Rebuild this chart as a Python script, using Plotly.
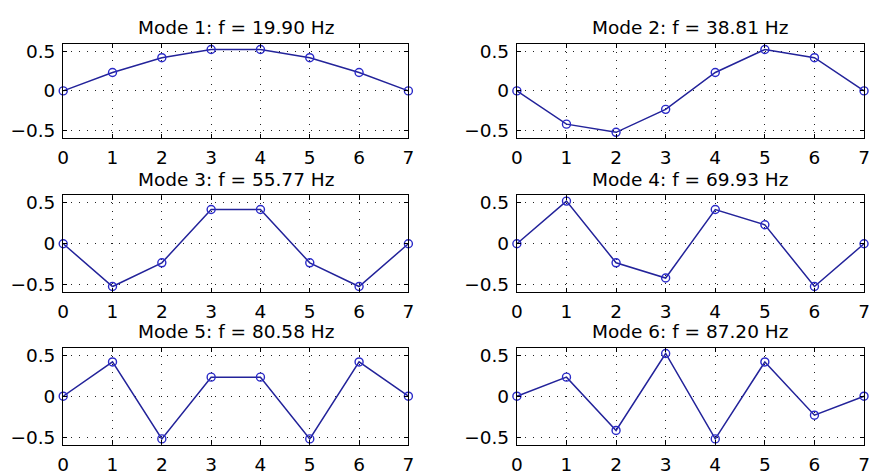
import plotly.graph_objects as go

x_nodes = [0, 1, 2, 3, 4, 5, 6, 7]
titles = ["Mode 1: f = 19.90 Hz", "Mode 2: f = 38.81 Hz", "Mode 3: f = 55.77 Hz",
          "Mode 4: f = 69.93 Hz", "Mode 5: f = 80.58 Hz", "Mode 6: f = 87.20 Hz"]
mode1 = [0, 0.232, 0.418, 0.521, 0.521, 0.418, 0.232, 0]
mode2 = [0, -0.418, -0.521, -0.232, 0.232, 0.521, 0.418, 0]
mode3 = [0, -0.521, -0.232, 0.418, 0.418, -0.232, -0.521, 0]
mode4 = [0, 0.521, -0.232, -0.418, 0.418, 0.232, -0.521, 0]
mode5 = [0, 0.418, -0.521, 0.232, 0.232, -0.521, 0.418, 0]
mode6 = [0, 0.232, -0.418, 0.521, -0.521, 0.418, -0.232, 0]
modes = [mode1, mode2, mode3, mode4, mode5, mode6]
y_ticks = [-0.5, 0, 0.5]
y_tick_text = ["\u22120.5", "0", "0.5"]

W, H = 873, 475
col_px = [(58, 408), (518, 870)]
row_px = [(42, 138), (197, 296), (353, 452)]

fig = go.Figure()
font = dict(family="DejaVu Sans, Liberation Sans, Arial, sans-serif", size=18.5, color="black")
line_col = "#23239a"

layout = dict(width=W, height=H, margin=dict(l=0, r=0, t=0, b=0),
              paper_bgcolor="white", plot_bgcolor="white", showlegend=False,
              font=font)
annotations = []
for i, (title, vals) in enumerate(zip(titles, modes)):
    r, c = divmod(i, 2)
    n = i + 1
    xa = "xaxis" if n == 1 else f"xaxis{n}"
    ya = "yaxis" if n == 1 else f"yaxis{n}"
    xref = "x" if n == 1 else f"x{n}"
    yref = "y" if n == 1 else f"y{n}"
    x0, x1 = col_px[c]
    top, bot = row_px[r]
    fig.add_trace(go.Scatter(
        x=x_nodes, y=vals, mode="lines+markers", xaxis=xref, yaxis=yref,
        line=dict(color=line_col, width=1.5),
        marker=dict(symbol="circle-open", size=8, color="#2a2ac8", line=dict(width=1.4)),
        cliponaxis=False))
    common = dict(showline=True, mirror="ticks", linecolor="black", linewidth=1.2,
                  ticks="inside", ticklen=4, tickcolor="black",
                  showgrid=True, gridcolor="#222222", gridwidth=1, griddash="1px,7px",
                  zeroline=False, tickfont=font)
    layout[xa] = dict(common, domain=[x0 / W, x1 / W], range=[0, 7],
                      tickvals=x_nodes, anchor=yref, ticklabelstandoff=3)
    layout[ya] = dict(common, domain=[1 - bot / H, 1 - top / H], range=[-0.59, 0.59],
                      tickvals=y_ticks, ticktext=y_tick_text, anchor=xref,
                      ticklabelstandoff=3)
    annotations.append(dict(text=title, x=(x0 + x1) / 2 / W, y=1 - (top - 5) / H,
                            xref="paper", yref="paper", xanchor="center", yanchor="bottom",
                            showarrow=False, font=font, borderpad=0))
layout["annotations"] = annotations
fig.update_layout(**layout)
fig.write_html("out.html")
